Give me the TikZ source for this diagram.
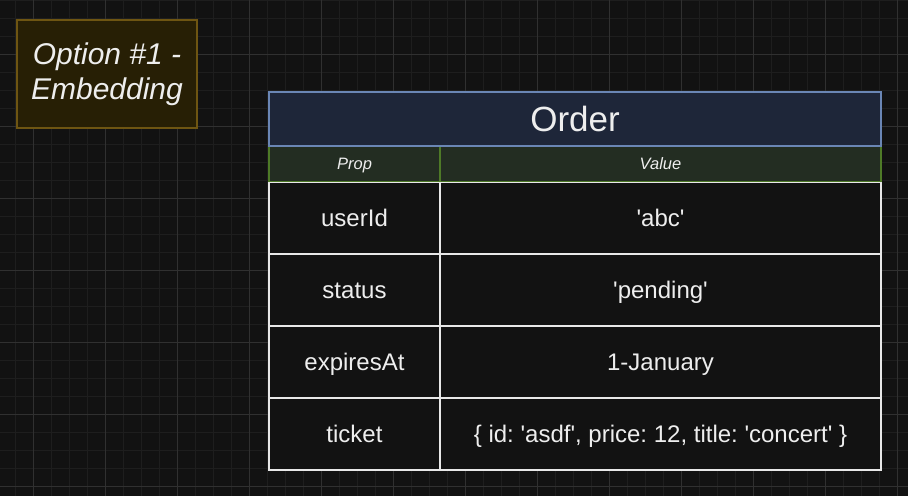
\documentclass[tikz,border=0pt]{standalone}
\usepackage{fontspec}
\setmainfont{Liberation Sans}
\frenchspacing
\newcommand{\sq}{\textquotesingle}
\definecolor{bg}{HTML}{121212}
\definecolor{gridminor}{HTML}{1E1E1E}
\definecolor{gridmajor}{HTML}{303030}
\definecolor{titlefill}{HTML}{271F05}
\definecolor{titleborder}{HTML}{6E5512}
\definecolor{orderfill}{HTML}{1E2639}
\definecolor{orderborder}{HTML}{6A86B5}
\definecolor{headfill}{HTML}{232D22}
\definecolor{headborder}{HTML}{4E7A27}
\definecolor{cellfill}{HTML}{121212}
\definecolor{cellborder}{HTML}{E8E8E8}
\definecolor{txt}{HTML}{EEEEEE}
\tikzset{
  box/.style={rectangle, inner sep=0pt, outer sep=0pt, text=txt},
  titlebox/.style={box, align=center, fill=titlefill, draw=titleborder, line width=1.5pt,
    minimum width=180pt, minimum height=108pt,
    font=\fontsize{30}{35}\selectfont\itshape},
  orderbox/.style={box, fill=orderfill, draw=orderborder, line width=1.5pt,
    minimum width=612pt, minimum height=54pt, font=\fontsize{35}{40}\selectfont,
    text height=25.5pt, text depth=0pt},
  headbox/.style={box, fill=headfill, draw=headborder, line width=1.5pt,
    minimum height=36pt, font=\fontsize{16.5}{19}\selectfont\itshape,
    text height=12pt, text depth=0pt},
  cellbox/.style={box, fill=cellfill, draw=cellborder, line width=2pt,
    minimum height=72pt, font=\fontsize{24}{28}\selectfont,
    text height=17.3pt, text depth=0pt},
  minorline/.style={draw=gridminor, line width=1pt},
  majorline/.style={draw=gridmajor, line width=1pt},
}
\begin{document}
\begin{tikzpicture}[x=1pt, y=-1pt]
\fill[bg] (0,0) rectangle (908,496);
\useasboundingbox (0,0) rectangle (908,496);
% grid
\foreach \i in {0,...,50} {\draw[minorline] ({15+18*\i},0) -- ++(0,496);}
\foreach \i in {0,...,27} {\draw[minorline] (0,{18*\i}) -- ++(908,0);}
\foreach \i in {0,...,12} {\draw[majorline] ({33+72*\i},0) -- ++(0,496);}
\foreach \i in {0,...,6} {\draw[majorline] (0,{54+72*\i}) -- ++(908,0);}
% title
\node[titlebox] (title) at (107,74) {Option \#1 -\\Embedding};
% table
\node[cellbox, minimum width=171pt] (p1) at (354.5,218) {userId};
\node[cellbox, minimum width=441pt] (v1) at (660.5,218) {\sq abc\sq};
\node[cellbox, minimum width=171pt] (p2) at (354.5,290) {status};
\node[cellbox, minimum width=441pt] (v2) at (660.5,290) {\sq pending\sq};
\node[cellbox, minimum width=171pt] (p3) at (354.5,362) {expiresAt};
\node[cellbox, minimum width=441pt] (v3) at (660.5,362) {1-January};
\node[cellbox, minimum width=171pt] (p4) at (354.5,434) {ticket};
\node[cellbox, minimum width=441pt] (v4) at (660.5,434) {\{ id: \sq asdf\sq, price: 12, title: \sq concert\sq\ \}};
\node[headbox, minimum width=171pt] (hp) at (354.5,163.5) {Prop};
\node[headbox, minimum width=441pt] (hv) at (660.5,163.5) {Value};
\node[orderbox] (order) at (575,119) {Order};
\end{tikzpicture}
\end{document}
